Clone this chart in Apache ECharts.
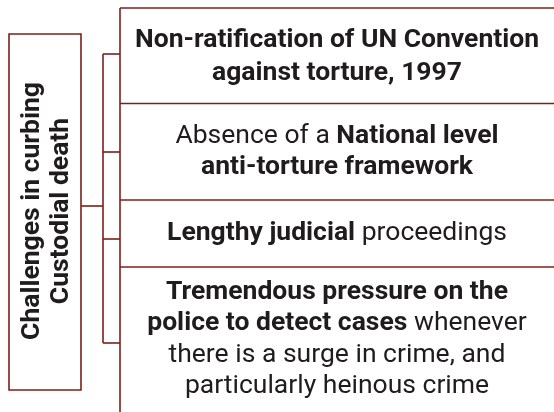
<!DOCTYPE html>
<html>
<head>
<meta charset="utf-8">
<script src="https://cdn.jsdelivr.net/npm/echarts@6/dist/echarts.min.js"></script>
<style>
  html, body { margin: 0; padding: 0; background: #fff; }
  #chart { width: 554px; height: 412px; }
</style>
</head>
<body>
<div id="chart"></div>
<script>
// text of the diagram
const rootLabel = ['Challenges in curbing', 'Custodial death'];
const challenges = [
    '{b|Non-ratification of UN Convention}\n{b|against torture, 1997}',
    'Absence of a {b|National level}\n{b|anti-torture framework}',
    '{b|Lengthy judicial} proceedings',
    '{b|Tremendous pressure on the}\n{b|police to detect cases} whenever\nthere is a surge in crime, and\nparticularly heinous crime'
];

// layout
const lineColor = '#7b2019';
const textColor = '#1f1c1d';
const font = 'Roboto, "Noto Sans", sans-serif';
const fontSize = 26.5;
const rowEdges = [8, 103.5, 200, 267, 420];
const tickYs = [54, 152, 239, 343];
const colX = 120;
const branchX = 103;
const rootBox = { x: 9, y: 34, width: 72, height: 356 };

const line = (x1, y1, x2, y2) => ({
    type: 'line',
    shape: { x1, y1, x2, y2 },
    style: { stroke: lineColor, lineWidth: 1.6 },
    silent: true
});

const elements = [];

// root box + vertical label
elements.push({
    type: 'rect',
    shape: rootBox,
    style: { fill: '#fff', stroke: lineColor, lineWidth: 1.6 }
});
elements.push({
    type: 'text',
    x: rootBox.x + rootBox.width / 2 + 2,
    y: rootBox.y + rootBox.height / 2 - 1,
    rotation: Math.PI / 2,
    style: {
        text: rootLabel.join('\n'),
        fill: textColor,
        fontFamily: font,
        fontSize: fontSize,
        fontWeight: 'bold',
        lineHeight: 29,
        align: 'center',
        verticalAlign: 'middle',
        textAlign: 'center',
        textVerticalAlign: 'middle'
    }
});

// connectors
const rootMidY = rootBox.y + rootBox.height / 2 - 6;
elements.push(line(rootBox.x + rootBox.width, rootMidY, branchX, rootMidY));
elements.push(line(branchX, tickYs[0], branchX, tickYs[tickYs.length - 1]));
tickYs.forEach(y => elements.push(line(branchX, y, colX, y)));

// column of challenges
elements.push(line(colX, rowEdges[0], colX, 412));
rowEdges.slice(0, 4).forEach(y => elements.push(line(colX, y, 560, y)));

challenges.forEach((txt, i) => {
    const lh = i === 0 ? 33 : 31.5;
    const cy = (rowEdges[i] + Math.min(rowEdges[i + 1], 412)) / 2 + (i === 0 ? 1.5 : 0);
    elements.push({
        type: 'text',
        x: 337,
        y: cy,
        style: {
            text: txt,
            fill: textColor,
            fontFamily: font,
            fontSize: fontSize,
            lineHeight: lh,
            align: 'center',
            verticalAlign: 'middle',
            textAlign: 'center',
            textVerticalAlign: 'middle',
            rich: {
                b: {
                    fontWeight: 'bold',
                    fontFamily: font,
                    fontSize: fontSize,
                    fill: textColor,
                    color: textColor,
                    lineHeight: lh
                }
            }
        }
    });
});

const chart = echarts.init(document.getElementById('chart'));
chart.setOption({
    backgroundColor: '#fff',
    animation: false,
    graphic: { elements }
});
</script>
</body>
</html>
